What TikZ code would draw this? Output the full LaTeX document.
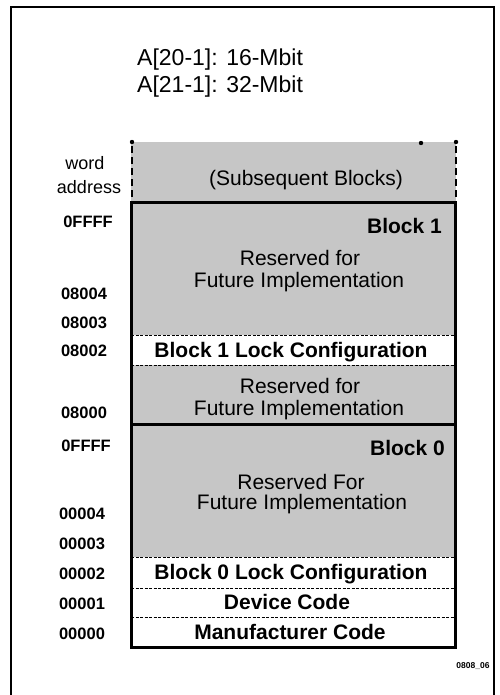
\documentclass[tikz,border=0pt]{standalone}
\usepackage{fontspec}
\setmainfont{Liberation Sans}
\definecolor{shadegray}{RGB}{198,198,198}
\begin{document}
\begin{tikzpicture}[x=1pt,y=-1pt,
  title/.style={inner sep=0pt, anchor=base west, font=\fontsize{23}{25}\selectfont},
  lbl/.style={inner sep=0pt, anchor=base, font=\fontsize{21}{22}\selectfont},
  blbl/.style={inner sep=0pt, anchor=base, font=\fontsize{21}{22}\selectfont\bfseries},
  addr/.style={inner sep=0pt, anchor=base, font=\fontsize{16.5}{18}\selectfont\bfseries},
  side/.style={inner sep=0pt, anchor=base, font=\fontsize{18}{19}\selectfont},
  shade/.style={fill=shadegray, draw=none},
  sep/.style={line width=0.8pt, dash pattern=on 3pt off 1.5pt},
  boxline/.style={line width=3pt},
  dashside/.style={line width=2.8pt, dash pattern=on 7pt off 4pt},
]
\useasboundingbox (0,0) rectangle (499,695);
% outer frame
\begin{scope}
\clip (0,0) rectangle (499,695);
\draw[line width=1.5pt] (11,705) -- (11,7) -- (494,7) -- (494,705);
\end{scope}

% title
\node[title] (t1) at (137,66) {A[20-1]: 16-Mbit};
\node[title] (t2) at (137,93) {A[21-1]: 32-Mbit};

% subsequent blocks region
\fill[shade] (131,142) rectangle (456,202);
\draw[dashside] (132,146) -- (132,202);
\draw[dashside] (456,146) -- (456,202);
\fill (132,142) circle (2.2);
\fill (456,142) circle (2.2);
\fill (421,143) circle (2.2);

% shaded regions inside blocks
\fill[shade] (131,202) rectangle (455,335);
\fill[shade] (131,365) rectangle (455,557);

% separators
\draw[sep] (131,335) -- (455,335);
\draw[sep] (131,365) -- (455,365);
\draw[sep] (131,557) -- (455,557);
\draw[sep] (131,588) -- (455,588);
\draw[sep] (131,617) -- (455,617);

% block outlines
\draw[boxline] (131,202) rectangle (455,647);
\draw[boxline] (131,202) -- (457,202);
\draw[boxline] (131,424) -- (455,424);

% left labels
\node[side] (w1) at (85,170) {word};
\node[side] (w2) at (89,193) {address};
\node[addr] (a1) at (88,227) {0FFFF};
\node[addr] (a2) at (84,299) {08004};
\node[addr] (a3) at (84,328) {08003};
\node[addr] (a4) at (84,356) {08002};
\node[addr] (a5) at (84,418) {08000};
\node[addr] (a6) at (86,451) {0FFFF};
\node[addr] (a7) at (82,519) {00004};
\node[addr] (a8) at (82,549) {00003};
\node[addr] (a9) at (82,579) {00002};
\node[addr] (a10) at (82,609) {00001};
\node[addr] (a11) at (82,639) {00000};

% texts inside
\node[lbl] (sb) at (306,185.5) {(Subsequent Blocks)};
\node[blbl, anchor=base east] (b1) at (442,233.5) {Block 1};
\node[lbl] (r1a) at (300,265.5) {Reserved for};
\node[lbl] (r1b) at (299,287.5) {Future Implementation};
\node[blbl] (lc1) at (291,357.5) {Block 1 Lock Configuration};
\node[lbl] (r2a) at (300,393) {Reserved for};
\node[lbl] (r2b) at (299,415) {Future Implementation};
\node[blbl, anchor=base east] (b0) at (445,455.5) {Block 0};
\node[lbl] (r3a) at (301,489.5) {Reserved For};
\node[lbl] (r3b) at (302,509.5) {Future Implementation};
\node[blbl] (lc0) at (291,579.5) {Block 0 Lock Configuration};
\node[blbl] (dc) at (287,609.5) {Device Code};
\node[blbl] (mc) at (290,639.5) {Manufacturer Code};

\node[inner sep=0pt, anchor=base, font=\fontsize{8.5}{9}\selectfont\bfseries] (fig) at (473,668) {0808\_06};
\end{tikzpicture}
\end{document}
